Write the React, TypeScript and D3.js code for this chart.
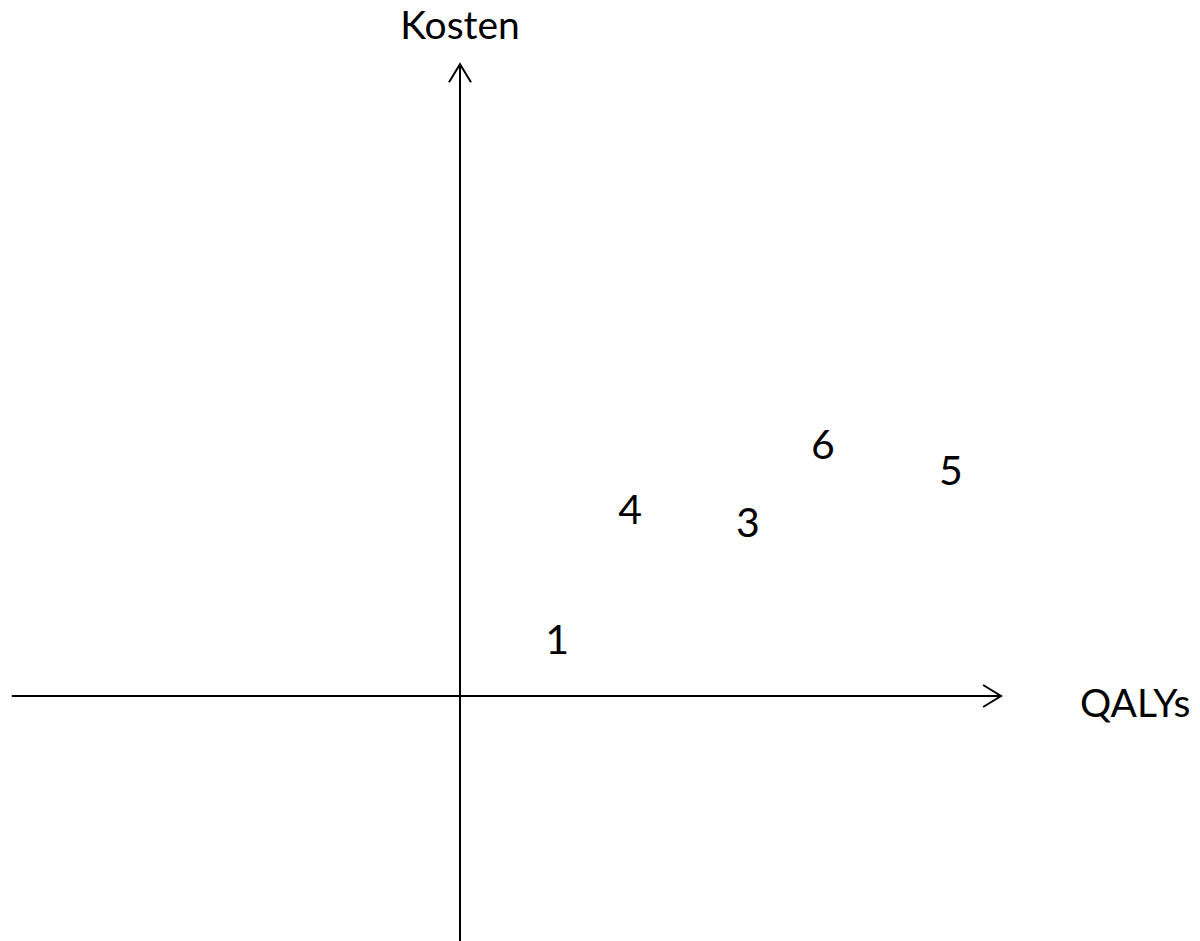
import React from "react";
import * as d3 from "d3";

const labels = ["1", "4", "3", "6", "5"];
const qalys = [1.8, 3.15, 5.33, 6.72, 9.09];
const kosten = [1.06, 3.46, 3.22, 4.67, 4.19];
const xExtent = [-8.3, 10.02];
const yExtent = [-4.6, 11.7];
const xTitle = "QALYs";
const yTitle = "Kosten";

export default function App() {
  const W = 1200, H = 941;
  const x = d3.scaleLinear().domain([0, 10]).range([460, 1000]);
  const y = d3.scaleLinear().domain([0, 10]).range([696, 156]);
  const font = "Lato, 'Open Sans', sans-serif";
  const x0 = x(0), y0 = y(0);
  const xEnd = x(xExtent[1]);
  const yEnd = y(yExtent[1]);
  const ah = 18, aw = 11;
  return (
    <svg width={W} height={H} style={{ position: "absolute", left: 0, top: 0, background: "#fff" }}>
      <g stroke="#000" strokeWidth={2} fill="none">
        <line x1={x(xExtent[0])} y1={y0} x2={xEnd} y2={y0} />
        <line x1={x0} y1={y(yExtent[0])} x2={x0} y2={yEnd} />
        <polyline points={`${xEnd - ah},${y0 - aw} ${xEnd},${y0} ${xEnd - ah},${y0 + aw}`} />
        <polyline points={`${x0 - aw},${yEnd + ah} ${x0},${yEnd} ${x0 + aw},${yEnd + ah}`} />
      </g>
      <text x={x0} y={39} textAnchor="middle" fontFamily={font} fontSize={39} fill="#000">{yTitle}</text>
      <text x={1080} y={717} textAnchor="start" fontFamily={font} fontSize={39} fill="#000">{xTitle}</text>
      {labels.map((l, i) => (
        <text key={l} x={x(qalys[i])} y={y(kosten[i])} dy="0.36em" textAnchor="middle" fontFamily={font} fontSize={41} fill="#000">{l}</text>
      ))}
    </svg>
  );
}
